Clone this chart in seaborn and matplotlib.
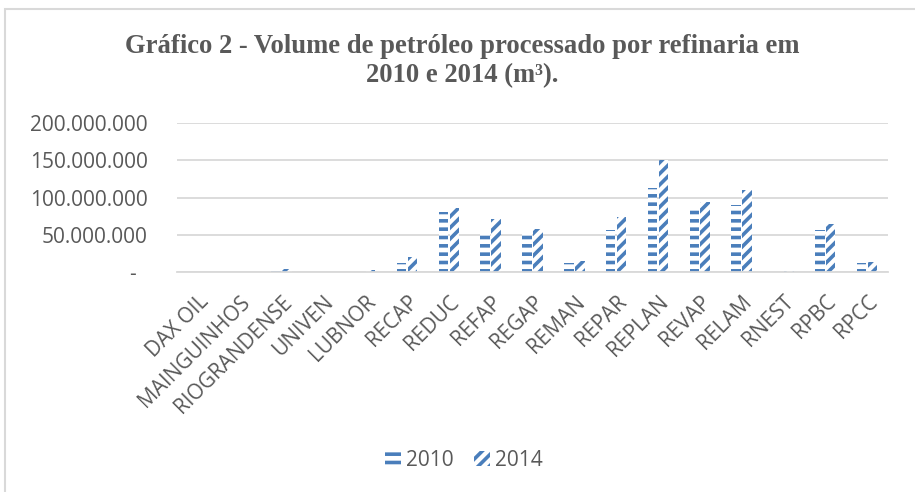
import matplotlib
matplotlib.use("Agg")
import matplotlib.pyplot as plt
import seaborn as sns
import pandas as pd
from matplotlib.patches import Rectangle, Patch
from matplotlib.ticker import FuncFormatter

refinarias = ["DAX OIL", "MAINGUINHOS", "RIOGRANDENSE", "UNIVEN", "LUBNOR", "RECAP",
              "REDUC", "REFAP", "REGAP", "REMAN", "REPAR", "REPLAN", "REVAP", "RELAM",
              "RNEST", "RPBC", "RPCC"]
vol_2010 = [0.1e6, 0.1e6, 0.8e6, 0.1e6, 0.5e6, 12e6, 80e6, 53.5e6, 53.5e6, 12e6,
            56.5e6, 113e6, 89e6, 90e6, 0.0, 56.5e6, 12e6]
vol_2014 = [0.1e6, 0.1e6, 4e6, 0.1e6, 2.7e6, 19.5e6, 86e6, 70.5e6, 58e6, 15e6,
            74e6, 150.5e6, 94e6, 110e6, 1.2e6, 64e6, 14e6]
anos = ["2010", "2014"]
yticks = [0, 50e6, 100e6, 150e6, 200e6]

df = pd.DataFrame({
    "Refinaria": refinarias * 2,
    "Ano": [anos[0]] * len(refinarias) + [anos[1]] * len(refinarias),
    "Volume": vol_2010 + vol_2014,
})

sns.set_style("white")
plt.rcParams["hatch.linewidth"] = 2.6
blue = "#4A7EBB"
light = "#C9D7EC"
gray = "#595959"
fsz = 15

fig = plt.figure(figsize=(9.15, 4.92), dpi=100)
ax = fig.add_axes([177 / 915, 1 - 272 / 492, (888 - 177) / 915, (272 - 123) / 492])

sns.barplot(data=df, x="Refinaria", y="Volume", hue="Ano", ax=ax,
            width=0.52, gap=0.12, palette=["white", "white"], legend=False)

hatches = {"2010": "--", "2014": "///"}
has_hc = hasattr(matplotlib.patches.Patch, "set_hatchcolor")
for cont, ano in zip(ax.containers, anos):
    for bar in cont:
        bar.set_facecolor("white")
        bar.set_hatch(hatches[ano])
        if has_hc:
            bar.set_edgecolor(light)
            bar.set_linewidth(0.8)
            bar.set_hatchcolor(blue)
        else:
            bar.set_edgecolor(blue)
            bar.set_linewidth(0)

ax.set_ylim(0, 200e6)
ax.set_xlim(-0.5, len(refinarias) - 0.5)
ax.set_yticks(yticks)
ax.yaxis.set_major_formatter(FuncFormatter(
    lambda v, p: "-  " if v == 0 else f"{int(v):,}".replace(",", ".")))
ax.grid(axis="y", color="#D9D9D9", linewidth=1.3)
ax.set_axisbelow(True)
for s in ["top", "right", "left"]:
    ax.spines[s].set_visible(False)
ax.spines["bottom"].set_color("#D9D9D9")
ax.spines["bottom"].set_linewidth(1.3)
ax.tick_params(axis="both", length=0, colors=gray, labelsize=fsz)
ax.tick_params(axis="y", pad=21)
ax.tick_params(axis="x", pad=14)
for lab in ax.get_xticklabels() + ax.get_yticklabels():
    lab.set_fontfamily("Open Sans")
    lab.set_color(gray)
for lab in ax.get_xticklabels():
    lab.set_rotation(45)
    lab.set_ha("right")
    lab.set_rotation_mode("anchor")
ax.set_xlabel("")
ax.set_ylabel("")

fig.text(462 / 915, 1 - 61 / 492,
         "Gráfico 2 - Volume de petróleo processado por refinaria em\n2010 e 2014 (m³).",
         ha="center", va="center", fontsize=19.2, fontweight="bold",
         family="Liberation Serif", color=gray, linespacing=1.2)

handles = [Patch(facecolor="white", edgecolor=blue, linewidth=0, hatch="--"),
           Patch(facecolor="white", edgecolor=blue, linewidth=0, hatch="///")]
leg = fig.legend(handles, anos, loc="center", bbox_to_anchor=(464 / 915, 1 - 460 / 492),
                 ncol=2, frameon=False, prop={"family": "Open Sans", "size": fsz},
                 handlelength=0.75, handleheight=0.75, handletextpad=0.25, columnspacing=1.0)
for t in leg.get_texts():
    t.set_color(gray)

fig.patches.append(Rectangle((5 / 915, -0.1), 1.2, 1 - 9 / 492 + 0.1,
                             transform=fig.transFigure, fill=False,
                             edgecolor="#D9D9D9", linewidth=1.5, zorder=0))

fig.savefig("out.png", dpi=100, facecolor="white")
